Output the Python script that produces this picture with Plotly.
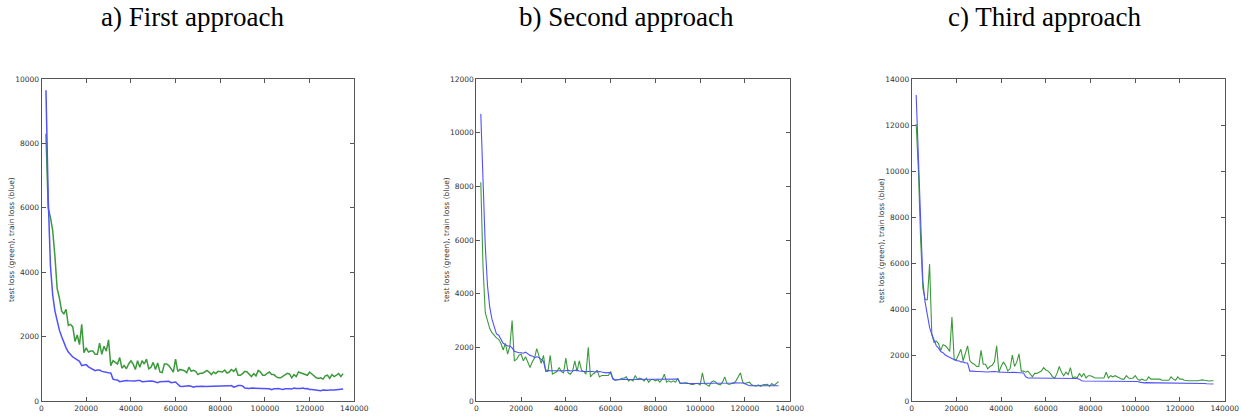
import plotly.graph_objects as go

# iteration grid: 2000 .. 135000 step 1000
ITER = list(range(2000, 136000, 1000))

TITLES = ["a) First approach", "b) Second approach", "c) Third approach"]
YLABEL = "test loss (green), train loss (blue)"
X_TICKS = [0, 20000, 40000, 60000, 80000, 100000, 120000, 140000]
Y_MAX = [10000, 12000, 14000]

# ---- a) First approach ----
test_a = [8300, 6000, 5700, 5300, 4500, 3500, 3200, 2800,
          2700, 2850, 2350, 2380, 2300, 1850, 2050, 1750, 2380, 1500,
          1650, 1520, 1550, 1550, 1450, 1450, 1800, 1450, 1700, 1550,
          1900, 1100, 1250, 1200, 1150, 1350, 1020, 1100, 1000, 1150,
          1250, 1150, 980, 1250, 1050, 1250, 1150, 1300, 1000, 1050,
          1200, 980, 1180, 900, 880, 1150, 1150, 1100, 1000, 900,
          1300, 920, 980, 950, 940, 880, 1050, 920, 950, 920,
          820, 860, 860, 900, 950, 900, 820, 900, 850, 920,
          920, 900, 960, 870, 900, 980, 920, 1000, 800, 800,
          850, 920, 900, 830, 760, 850, 780, 950, 900, 800,
          800, 860, 900, 820, 820, 760, 720, 720, 760, 820,
          860, 840, 720, 820, 760, 900, 880, 860, 820, 800,
          900, 840, 800, 720, 700, 720, 680, 780, 800, 700,
          820, 760, 800, 850, 760, 850]
train_a = [9650, 6300, 4200, 3300, 2800, 2450, 2200, 2000,
           1800, 1650, 1520, 1430, 1370, 1320, 1280, 1230, 1100, 1120,
           1130, 1060, 1020, 1000, 940, 960, 960, 920, 900, 880,
           880, 870, 680, 660, 650, 600, 620, 640, 640, 630,
           630, 610, 620, 640, 640, 600, 610, 620, 610, 620,
           610, 600, 570, 600, 600, 610, 600, 610, 570, 590,
           590, 520, 460, 450, 460, 460, 470, 460, 430, 450,
           460, 470, 460, 450, 450, 460, 460, 470, 460, 460,
           460, 470, 460, 470, 470, 480, 430, 450, 480, 480,
           470, 400, 390, 390, 400, 400, 390, 380, 380, 380,
           380, 390, 380, 350, 380, 380, 390, 370, 360, 380,
           390, 380, 370, 400, 390, 380, 390, 400, 380, 390,
           360, 360, 350, 340, 330, 320, 340, 330, 330, 340,
           330, 340, 350, 350, 350, 370]

# ---- b) Second approach ----
test_b = [8150, 5000, 3300, 3000, 2700, 2550, 2450, 2350,
          2300, 2150, 1900, 2150, 1750, 2050, 3000, 1500, 1550, 1700,
          1750, 1500, 1650, 1450, 1250, 1450, 1600, 1950, 1650, 1400,
          1700, 1100, 1100, 1700, 1000, 1050, 1100, 1250, 1100, 1050,
          1600, 1050, 1000, 1100, 1500, 1100, 1500, 1150, 1100, 1000,
          2000, 900, 1000, 1050, 1150, 900, 950, 950, 950, 950,
          1100, 850, 780, 800, 800, 850, 850, 900, 750, 800,
          750, 950, 800, 850, 820, 750, 850, 700, 800, 800,
          750, 800, 700, 800, 1000, 700, 750, 700, 750, 700,
          850, 650, 650, 680, 680, 650, 620, 620, 650, 650,
          600, 1050, 650, 600, 550, 700, 750, 700, 620, 600,
          700, 900, 650, 620, 650, 650, 750, 900, 1050, 700,
          650, 680, 700, 600, 580, 550, 600, 550, 600, 600,
          620, 550, 650, 580, 650, 720]
train_b = [10700, 8000, 5800, 4300, 3500, 3050, 2800, 2500,
           2450, 2300, 2150, 2100, 2050, 2050, 1980, 1850, 1820, 1800,
           1800, 1780, 1820, 1750, 1700, 1680, 1620, 1650, 1620, 1550,
           1480, 1150, 1130, 1130, 1130, 1130, 1120, 1130, 1130, 1120,
           1130, 1150, 1120, 1130, 1150, 1150, 1120, 1100, 1100, 1100,
           1100, 1120, 1100, 1080, 1100, 1100, 1080, 1060, 1050, 1060,
           1050, 820, 780, 790, 800, 800, 800, 810, 800, 800,
           800, 800, 820, 800, 800, 810, 820, 800, 820, 820,
           820, 820, 820, 810, 820, 820, 820, 820, 820, 820,
           820, 680, 660, 660, 650, 660, 650, 650, 650, 650,
           650, 660, 650, 650, 660, 650, 660, 650, 660, 660,
           660, 660, 660, 670, 670, 680, 680, 680, 680, 670,
           640, 600, 570, 570, 560, 570, 570, 560, 570, 570,
           570, 560, 570, 570, 560, 570]

# ---- c) Third approach ----
test_c = [12050, 10000, 7000, 4900, 4400, 4400, 5950, 2900,
          2550, 2600, 2500, 2200, 2450, 2400, 2300, 2150, 3650, 1800,
          1800, 2000, 2250, 1750, 2050, 2400, 1750, 1650, 1600, 1500,
          1500, 2200, 1600, 1600, 1400, 1500, 1550, 1700, 2400, 1250,
          1500, 1700, 1550, 1300, 1400, 2000, 1500, 1700, 2050, 1300,
          1300, 1250, 1300, 1150, 1050, 1200, 1200, 1250, 1300, 1450,
          1350, 1300, 1200, 1050, 1000, 1200, 1500, 1250, 1100, 1250,
          1150, 1450, 1000, 1050, 1000, 1200, 1050, 1200, 1000, 1100,
          1100, 1050, 1000, 1000, 1000, 1000, 1000, 1250, 1000, 1100,
          1050, 1100, 1050, 1000, 950, 950, 1100, 1000, 980, 1000,
          1100, 950, 900, 950, 900, 900, 1050, 950, 950, 950,
          950, 950, 900, 900, 880, 900, 1050, 950, 900, 1050,
          950, 950, 900, 880, 880, 880, 870, 880, 880, 900,
          920, 900, 880, 870, 880, 880]
train_c = [13300, 10500, 7500, 5200, 4300, 3800, 3200, 2900,
           2600, 2400, 2300, 2150, 2100, 2000, 1950, 1900, 1850, 1800,
           1750, 1750, 1700, 1700, 1650, 1650, 1300, 1300, 1280, 1280,
           1280, 1270, 1270, 1260, 1260, 1270, 1290, 1280, 1270, 1250,
           1250, 1250, 1240, 1240, 1240, 1250, 1240, 1230, 1230, 1220,
           1220, 1050, 1000, 1000, 1000, 1000, 1000, 990, 990, 990,
           980, 990, 1000, 990, 1000, 1000, 990, 990, 1000, 1000,
           1000, 1000, 1000, 1000, 980, 950, 880, 870, 870, 870,
           870, 870, 870, 870, 870, 870, 870, 870, 870, 870,
           870, 870, 870, 870, 870, 870, 870, 870, 870, 870,
           860, 850, 820, 790, 790, 800, 790, 800, 790, 790,
           790, 790, 780, 780, 790, 790, 780, 790, 780, 780,
           780, 780, 770, 770, 760, 760, 760, 760, 760, 760,
           760, 760, 750, 750, 750, 740]

TESTS = [test_a, test_b, test_c]
TRAINS = [train_a, train_b, train_c]

W, H = 1241, 416
# plot-area pixel boxes in window coordinates
PX = [(41.5, 354.3), (476.3, 789.7), (911.7, 1224.7)]
TOP, BOT = 79, 401
TITLE_X = [192, 626, 1044]
TITLE_Y = 17
YLAB_X = [12, 447, 882]
LW = [1.5, 1.1, 1.1]

GREEN = "#3c9a3c"
BLUE = "#5050ff"


def fx(px):
    return px / W


def fy(py):
    return 1 - py / H


fig = go.Figure()
layout = dict(width=W, height=H, margin=dict(l=0, r=0, t=0, b=0, autoexpand=False),
              paper_bgcolor="white", plot_bgcolor="white", showlegend=False,
              annotations=[])
tick_font = dict(family="DejaVu Sans", size=7.5, color="#333333")
for i in range(3):
    sfx = "" if i == 0 else str(i + 1)
    fig.add_trace(go.Scatter(x=ITER, y=TESTS[i], mode="lines",
                             line=dict(color=GREEN, width=LW[i]),
                             xaxis="x" + sfx, yaxis="y" + sfx))
    fig.add_trace(go.Scatter(x=ITER, y=TRAINS[i], mode="lines",
                             line=dict(color=BLUE, width=LW[i]),
                             xaxis="x" + sfx, yaxis="y" + sfx))
    l, r = PX[i]
    common = dict(showgrid=False, zeroline=False, showline=True,
                  linecolor="#555555", linewidth=1, mirror="ticks",
                  ticks="inside", ticklen=4, tickcolor="#555555",
                  tickwidth=1, tickfont=tick_font, automargin=False)
    layout["xaxis" + sfx] = dict(domain=[fx(l), fx(r)], range=[0, 140000],
                                 tickvals=X_TICKS, ticktext=[str(v) for v in X_TICKS],
                                 anchor="y" + sfx, **common)
    yt = list(range(0, Y_MAX[i] + 1, 2000))
    layout["yaxis" + sfx] = dict(domain=[fy(BOT), fy(TOP)],
                                 range=[0, Y_MAX[i]], tickvals=yt,
                                 ticktext=[str(v) for v in yt],
                                 anchor="x" + sfx, **common)
    layout["annotations"].append(dict(
        text=TITLES[i], x=fx(TITLE_X[i]), y=fy(TITLE_Y), xref="paper", yref="paper",
        xanchor="center", yanchor="middle", showarrow=False,
        font=dict(family="Liberation Serif", size=27, color="black")))
    layout["annotations"].append(dict(
        text=YLABEL, x=fx(YLAB_X[i]), y=fy((TOP + BOT) / 2),
        xref="paper", yref="paper", xanchor="center", yanchor="middle",
        textangle=-90, showarrow=False,
        font=dict(family="DejaVu Sans", size=7.5, color="#333333")))

fig.update_layout(**layout)
fig.write_html(
    "out.html",
    config={"displayModeBar": False},
    post_script="document.documentElement.style.margin='0';"
                "document.body.style.margin='0';"
                "document.body.style.overflow='hidden';",
)
